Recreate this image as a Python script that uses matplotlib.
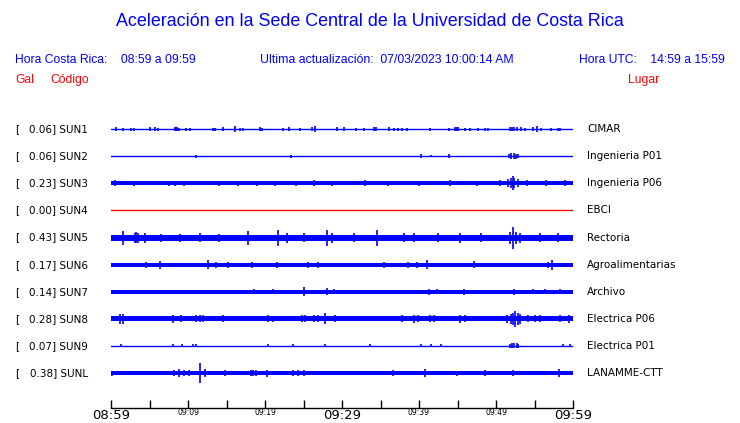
import matplotlib
matplotlib.use("Agg")
import matplotlib.pyplot as plt
import matplotlib.transforms as mtransforms

# Stations (top to bottom)
codes = ["SUN1", "SUN2", "SUN3", "SUN4", "SUN5", "SUN6", "SUN7", "SUN8", "SUN9", "SUNL"]
gal = [0.06, 0.06, 0.23, 0.00, 0.43, 0.17, 0.14, 0.28, 0.07, 0.38]
places = ["CIMAR", "Ingenieria P01", "Ingenieria P06", "EBCI", "Rectoria",
          "Agroalimentarias", "Archivo", "Electrica P06", "Electrica P01", "LANAMME-CTT"]
trace_colors = ["blue", "blue", "blue", "red", "blue", "blue", "blue", "blue", "blue", "blue"]

# background noise half-width of each trace (pixels)
noise = [0.6, 0.6, 2.0, 0.6, 3.0, 2.1, 1.8, 2.6, 0.6, 1.9]

# bursts: minute after 08:59, half amplitude (pixels)
sun1_t = [0.6, 1.5, 2.6, 3.0, 5.1, 5.7, 6.1, 8.3, 8.45, 8.6, 8.8, 9.8, 10.2, 13.2, 13.5, 14.5,
          16.1, 16.7, 17.2, 19.3, 19.6, 22.3, 23.1, 24.6, 26.1, 26.5, 29.4, 30.2, 31.8, 32.9,
          34.1, 34.4, 36.1, 36.7, 37.3, 37.8, 38.5, 41.4, 43.9, 44.7, 44.9, 45.1, 46.0, 46.6,
          47.7, 48.6, 48.9, 51.8, 52.1, 52.4, 52.7, 53.3, 53.8, 54.8, 55.3, 55.9, 57.1, 58.0, 58.3]
sun1_a = [2, 1.5, 1.5, 1.5, 2, 2, 1.5, 2, 2, 2, 1.5, 1.5, 1.5, 1.5, 1.5, 2,
          3, 1.5, 1.5, 2, 1.5, 1.5, 2, 1.5, 2, 3, 2, 2, 1.5, 1.5,
          2, 2, 2, 1.5, 1.5, 1.5, 1.5, 1.5, 1.5, 2, 2, 2, 1.5, 1.5,
          1.5, 1.5, 1.5, 2, 2, 2, 2, 2, 1.5, 2, 3, 1.5, 1.5, 1.5, 1.5]
sun2_t = [11.0, 23.4, 40.3, 41.5, 43.9, 51.7, 52.0, 52.3, 52.6, 52.8]
sun2_a = [1.5, 1.5, 2, 1, 2, 2, 3, 3, 2.5, 2]
sun3_t = [0.5, 3.0, 7.5, 8.3, 9.5, 14.0, 16.5, 19.0, 21.3, 24.0, 26.4, 28.7, 33.0, 36.0,
          40.0, 44.0, 47.5, 50.5, 51.6, 52.0, 52.2, 52.4, 52.8, 54.0, 56.5, 59.0]
sun3_a = [3, 2.5, 2.5, 2.5, 2.5, 2.5, 2.5, 2.5, 2.5, 2.5, 3, 2.5, 3, 2.5,
          2.5, 3, 2.5, 3, 4, 5, 7, 5, 4, 3, 3, 3]
sun4_t = []
sun4_a = []
sun5_t = [1.5, 3.1, 3.3, 3.5, 4.4, 6.5, 9.0, 11.6, 14.0, 17.8, 21.7, 22.8, 25.0, 28.0, 28.7,
          31.5, 34.5, 38.0, 39.3, 42.5, 45.3, 48.0, 51.8, 52.2, 52.6, 53.1, 55.7, 58.0]
sun5_a = [7, 5, 5.5, 5, 5, 4, 4, 4.5, 4, 7, 8, 5, 4.5, 8, 5,
          4.5, 8, 4.5, 4.5, 4.5, 5, 4.5, 6, 11, 6, 5, 4.5, 4.5]
sun6_t = [4.6, 6.3, 12.6, 13.7, 15.2, 18.3, 21.6, 25.6, 26.9, 35.4, 38.6, 39.7, 41.1,
          47.1, 56.8, 57.3]
sun6_a = [3, 4, 4.5, 3, 3, 3, 3, 3, 3, 3, 3, 3, 4.5, 3.5, 3, 5]
sun7_t = [18.6, 21.1, 25.0, 28.0, 28.9, 41.3, 42.4, 45.8, 52.4, 54.8, 56.4, 58.3]
sun7_a = [2.5, 2.5, 4.5, 3.5, 2.5, 3, 2.5, 3, 3, 2.5, 2.5, 2.5]
sun8_t = [1.2, 1.6, 8.1, 9.1, 11.1, 11.6, 12.0, 14.6, 20.4, 21.1, 24.8, 25.2, 26.3, 26.9,
          27.8, 29.1, 37.8, 39.3, 39.9, 41.4, 41.9, 45.3, 46.0, 51.4, 51.9, 52.2, 52.5, 52.8,
          53.1, 54.2, 55.0, 55.7, 58.3, 59.5]
sun8_a = [5, 5, 4, 3.5, 3.5, 3.5, 3.5, 3.5, 3.5, 3, 3.5, 3.5, 3.5, 3.5,
          5.5, 3.5, 3.5, 4, 3.5, 3.5, 3.5, 4, 3.5, 4, 5, 6, 8, 6,
          5, 3.5, 3.5, 3.5, 3.5, 4]
sun9_t = [1.3, 8.1, 9.2, 10.6, 11.1, 20.4, 23.7, 27.8, 33.6, 40.3, 41.6, 42.9,
          51.8, 52.1, 52.4, 52.7, 52.9, 58.7, 59.6]
sun9_a = [1.5, 1.5, 1.5, 1.5, 1.5, 1.5, 1.5, 1.5, 1.5, 1.5, 1.5, 1.5,
          2, 2.5, 2.5, 2.5, 2, 1.5, 1.5]
sunl_t = [0.1, 8.2, 8.8, 9.5, 10.1, 11.6, 12.2, 14.8, 18.2, 18.5, 18.8, 20.2, 23.7, 24.3,
          25.0, 36.6, 40.8, 44.9, 48.6, 52.2, 58.2]
sunl_a = [2.5, 3, 4, 3, 3, 10, 4, 3, 3, 3, 3, 3.5, 3, 3,
          3, 3, 4, 2.5, 3, 3, 4]
burst_t = [sun1_t, sun2_t, sun3_t, sun4_t, sun5_t, sun6_t, sun7_t, sun8_t, sun9_t, sunl_t]
burst_a = [sun1_a, sun2_a, sun3_a, sun4_a, sun5_a, sun6_a, sun7_a, sun8_a, sun9_a, sunl_a]

tick_min = list(range(0, 61, 5))
tick_lab = {0: "08:59", 10: "09:09", 20: "09:19", 30: "09:29", 40: "09:39", 50: "09:49", 60: "09:59"}
big_lab = ["08:59", "09:29", "09:59"]

BLUE = "#0000ff"
RED = "#ff0000"
PX = 27.1  # pixels between traces

fig = plt.figure(figsize=(7.4, 4.23), dpi=100)
ax = fig.add_axes([111 / 740, 15 / 423, 462 / 740, 293 / 423])
ax.set_xlim(0, 60)
ax.set_ylim(10.29, -0.52)

for i in range(len(codes)):
    col = trace_colors[i]
    h = noise[i] / PX
    if noise[i] < 1:
        ax.plot([0, 60], [i, i], color=col, lw=1.0)
    else:
        ax.fill_between([0, 60], i - h, i + h, color=col, lw=0)
    if burst_t[i]:
        amps = [a / PX for a in burst_a[i]]
        ax.vlines(burst_t[i], [i - a for a in amps], [i + a for a in amps], color=col, lw=1.2)

for s in ["top", "left", "right"]:
    ax.spines[s].set_visible(False)
ax.spines["bottom"].set_linewidth(1.0)
ax.set_yticks([])
ax.set_xticks(tick_min)
ax.set_xticklabels([tick_lab.get(m, "") for m in tick_min])
ax.tick_params(axis="x", direction="in", length=6, width=1.0, pad=1, color="black")
for lab in ax.get_xticklabels():
    if lab.get_text() in big_lab:
        lab.set_fontsize(9.5)
    else:
        lab.set_fontsize(5.5)
        lab.set_y(lab.get_position()[1] + 0.004)

# labels on each side of the traces
tr = mtransforms.blended_transform_factory(fig.transFigure, ax.transData)
for i in range(len(codes)):
    ax.text(15 / 740, i, "[", transform=tr, fontsize=7.5, va="center", ha="left",
            family="DejaVu Sans")
    ax.text(88 / 740, i, f"{gal[i]:.2f}] {codes[i]}", transform=tr, fontsize=7.5,
            va="center", ha="right", family="DejaVu Sans")
    ax.text(587 / 740, i, places[i], transform=tr, fontsize=7.5, va="center", ha="left",
            family="DejaVu Sans")

hf = "Liberation Sans"
fig.text(0.5, 1 - 22 / 423, "Aceleración en la Sede Central de la Universidad de Costa Rica",
         ha="center", va="center", color=BLUE, fontsize=12.9, family=hf)
fig.text(15 / 740, 1 - 60 / 423, "Hora Costa Rica:    08:59 a 09:59", ha="left", va="center",
         color=BLUE, fontsize=8.7, family=hf)
fig.text(260 / 740, 1 - 60 / 423, "Ultima actualización:  07/03/2023 10:00:14 AM", ha="left",
         va="center", color=BLUE, fontsize=8.8, family=hf)
fig.text(725 / 740, 1 - 60 / 423, "Hora UTC:    14:59 a 15:59", ha="right", va="center",
         color=BLUE, fontsize=8.7, family=hf)
fig.text(15 / 740, 1 - 80 / 423, "Gal", ha="left", va="center", color=RED, fontsize=8.7, family=hf)
fig.text(50 / 740, 1 - 80 / 423, "Código", ha="left", va="center", color=RED, fontsize=8.7, family=hf)
fig.text(628 / 740, 1 - 80 / 423, "Lugar", ha="left", va="center", color=RED, fontsize=8.7, family=hf)

fig.savefig("out.png", dpi=100)
